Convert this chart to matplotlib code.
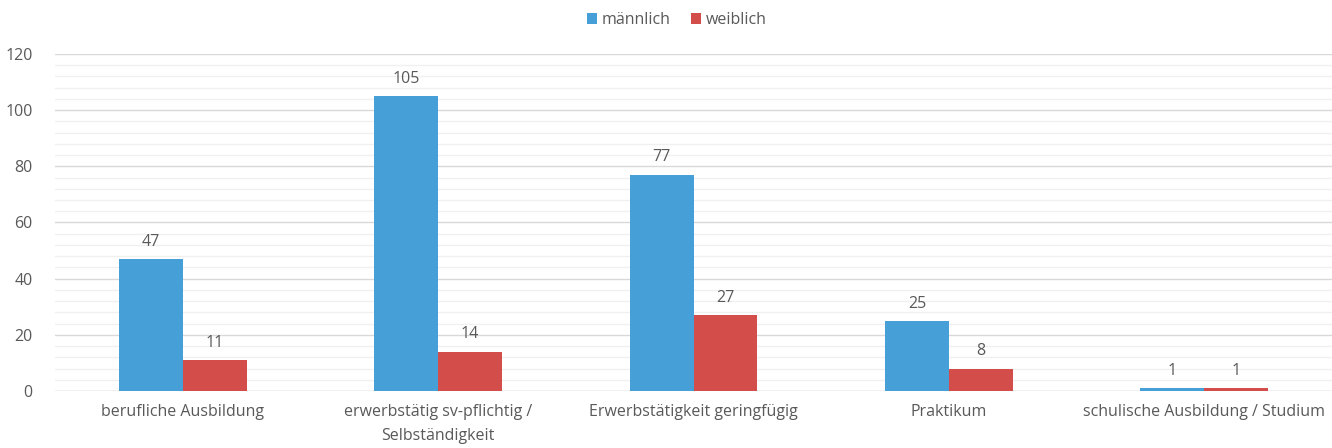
import numpy as np
import matplotlib.pyplot as plt
import matplotlib.ticker as ticker

plt.rcParams['font.family'] = ['Open Sans', 'DejaVu Sans']

categories = ['berufliche Ausbildung', 'erwerbstätig sv-pflichtig /\nSelbständigkeit',
              'Erwerbstätigkeit geringfügig', 'Praktikum',
              'schulische Ausbildung / Studium']
maennlich = [47, 105, 77, 25, 1]
weiblich = [11, 14, 27, 8, 1]

blue = '#479FD8'
red = '#D34E4A'
txt = '#595959'
fs = 11.5

fig = plt.figure(figsize=(13.32, 4.48), dpi=100)
ax = fig.add_axes([55 / 1332, 1 - 391 / 448, 1 - 55 / 1332, (391 - 54) / 448])

x = np.arange(len(categories))
w = 0.25
b1 = ax.bar(x - w / 2, maennlich, w, color=blue, label='männlich', zorder=3)
b2 = ax.bar(x + w / 2, weiblich, w, color=red, label='weiblich', zorder=3)

for bars in (b1, b2):
    for r in bars:
        ax.text(r.get_x() + r.get_width() / 2, r.get_height() + 3.3, str(int(r.get_height())),
                ha='center', va='bottom', fontsize=fs, color=txt)

ax.set_xlim(-0.5, len(categories) - 0.5)
ax.set_ylim(0, 120)
ax.yaxis.set_major_locator(ticker.MultipleLocator(20))
ax.yaxis.set_minor_locator(ticker.MultipleLocator(4))
ax.grid(axis='y', which='major', color='#d9d9d9', linewidth=1, zorder=0)
ax.grid(axis='y', which='minor', color='#f0f0f0', linewidth=1, zorder=0)
ax.set_axisbelow(True)

ax.set_xticks(x)
ax.set_xticklabels(categories, fontsize=fs, color=txt, linespacing=1.75)
ax.tick_params(axis='y', labelsize=fs, labelcolor=txt, length=0, pad=16, which='both')
ax.tick_params(axis='x', length=0, pad=9)
for s in ax.spines.values():
    s.set_visible(False)
ax.axhline(0, color='#d9d9d9', linewidth=1, zorder=2)

leg = fig.legend(loc='upper center', bbox_to_anchor=(0.508, 1.005), ncols=2, frameon=False,
                 fontsize=fs, handlelength=0.6, handleheight=0.6, handletextpad=0.3,
                 columnspacing=1.3)
for t in leg.get_texts():
    t.set_color(txt)

fig.savefig('out.png', dpi=100)
